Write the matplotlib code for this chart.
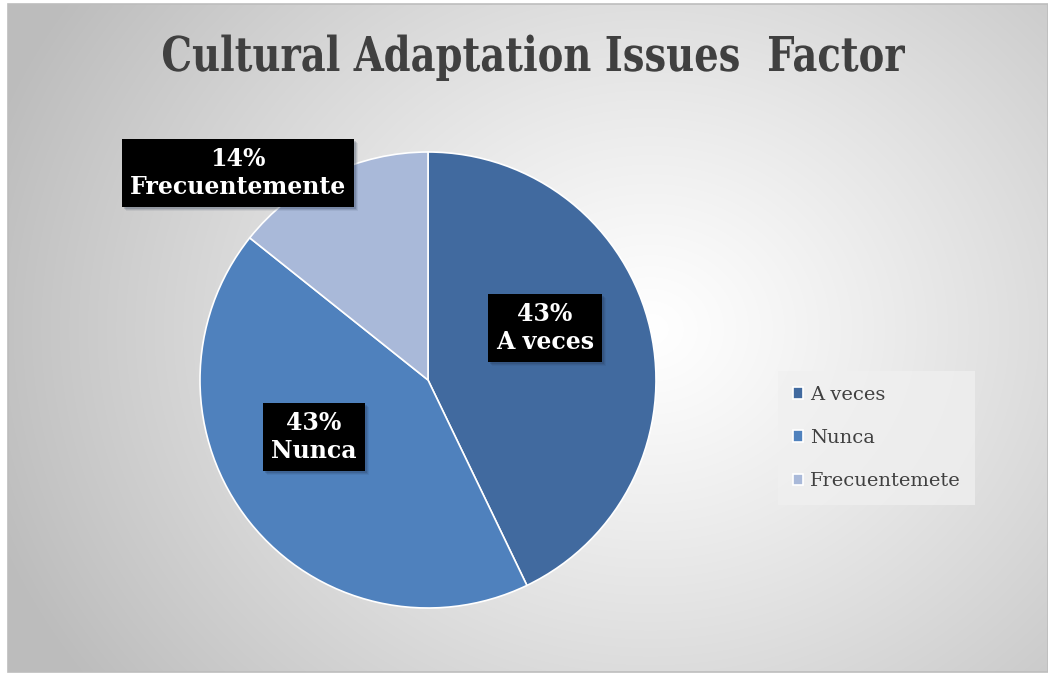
import numpy as np
import matplotlib
matplotlib.use("Agg")
import matplotlib.pyplot as plt
from matplotlib.patches import Rectangle, PathPatch
from matplotlib.textpath import TextPath
from matplotlib.font_manager import FontProperties
import matplotlib.transforms as mtransforms

# ---- data ----
title = "Cultural Adaptation Issues  Factor"
categories = ["A veces", "Nunca", "Frecuentemete"]
values = [3, 3, 1]
label_texts = ["43%\nA veces", "43%\nNunca", "14%\nFrecuentemente"]
colors = ["#416a9f", "#4f81bd", "#a9b9d9"]

W, H = 1048, 674
fig = plt.figure(figsize=(W / 100, H / 100), dpi=100, facecolor="white")
ax = fig.add_axes([0, 0, 1, 1])
ax.set_xlim(0, W)
ax.set_ylim(0, H)
ax.axis("off")

# chart area with radial gradient background (pixel coords, y up)
x0, x1 = 8, 1048
y0, y1 = 2, 670
yy, xx = np.mgrid[y0:y1, x0:x1]
cx, cy = 650, H - 330
d = np.hypot((xx - cx) * 0.95, (yy - cy) * 1.1)
v = np.clip(255 - 64 * (d / 640) ** 1.15, 188, 255) / 255.0
img = np.dstack([v, v, v])
ax.imshow(img, extent=(x0, x1, y0, y1), origin="lower", zorder=0, aspect="auto")
ax.add_patch(Rectangle((x0, y0), x1 - x0, y1 - y0, fill=False,
                       edgecolor="#bdbdbd", linewidth=1.2, zorder=1))

# pie
center = (428, H - 380)
radius = 228
wedges, _ = ax.pie(values, colors=colors, startangle=90, counterclock=False,
                   center=center, radius=radius,
                   wedgeprops=dict(edgecolor="white", linewidth=1.2))
for w in wedges:
    w.set_zorder(2)
ax.set_xlim(0, W)
ax.set_ylim(0, H)
ax.set_aspect("auto")

# data labels (black boxes with soft shadow)
label_pos = [(545, H - 328), (314, H - 437), (238, H - 173)]
for (lx, ly), t in zip(label_pos, label_texts):
    for k, a in ((4, 0.08), (3, 0.12), (2, 0.18)):
        ax.text(lx + k, ly - k, t, ha="center", va="center", fontsize=17,
                fontweight="bold", family="DejaVu Serif", color="white", alpha=0.0,
                linespacing=1.2, zorder=3,
                bbox=dict(boxstyle="square,pad=0.35", facecolor="#1f2f4a", alpha=a,
                          edgecolor="none"))
    ax.text(lx, ly, t, ha="center", va="center", fontsize=17,
            fontweight="bold", family="DejaVu Serif", color="white",
            linespacing=1.2, zorder=4,
            bbox=dict(boxstyle="square,pad=0.35", facecolor="black",
                      edgecolor="none"))

# title, fitted to the reference's extent with a condensed look
fp = FontProperties(family="DejaVu Serif", weight="bold")
tp = TextPath((0, 0), title, size=50, prop=fp)
cap = TextPath((0, 0), "I", size=50, prop=fp).get_extents().height
bb = tp.get_extents()
sx = (905 - 163) / bb.width
sy = 35.0 / cap
tr = (mtransforms.Affine2D().translate(-bb.x0, 0).scale(sx, sy)
      .translate(163, H - 71))
ax.add_patch(PathPatch(tr.transform_path(tp), facecolor="#404040",
                       edgecolor="none", zorder=5))

# legend
leg = ax.legend(wedges, categories, loc="center left",
                bbox_to_anchor=(778 / W, 1 - 438 / H), borderaxespad=0,
                frameon=True, prop=dict(family="DejaVu Serif", size=14),
                handlelength=0.55, handleheight=0.55, handletextpad=0.35,
                labelspacing=1.3, borderpad=0.75, fancybox=False)
leg.get_frame().set_facecolor("#f0f0f0")
leg.get_frame().set_edgecolor("none")
leg.get_frame().set_alpha(0.75)
for t in leg.get_texts():
    t.set_color("#404040")

fig.savefig("out.png", dpi=100, facecolor="white")
